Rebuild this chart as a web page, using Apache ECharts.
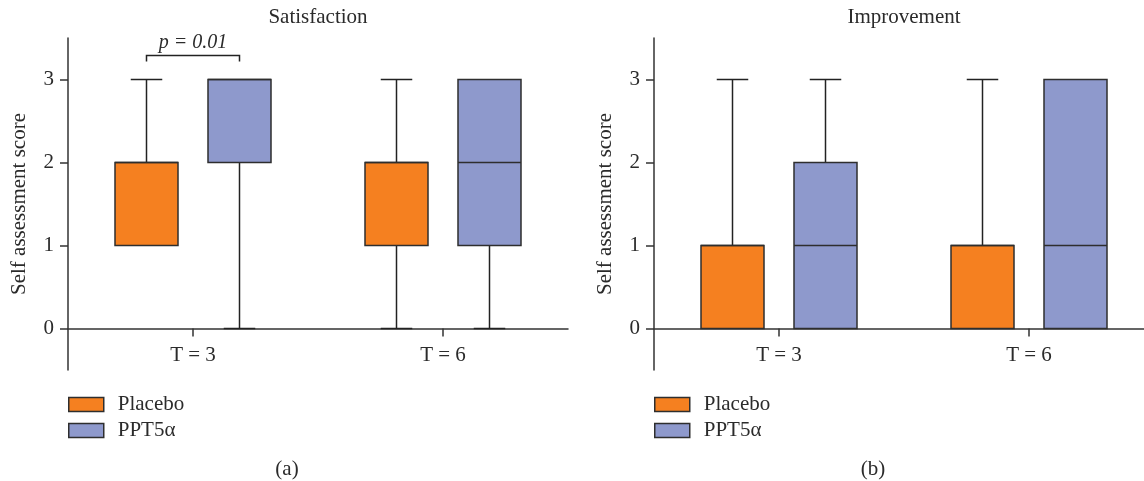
<!DOCTYPE html>
<html>
<head>
<meta charset="utf-8">
<script src="https://cdn.jsdelivr.net/npm/echarts@6/dist/echarts.min.js"></script>
<style>html,body{margin:0;padding:0;background:#fff;}#c{width:1144px;height:481px;}</style>
</head>
<body>
<div id="c"></div>
<script>
// ---- data ----
const categories = ['T = 3', 'T = 6'];
const seriesNames = ['Placebo', 'PPT5α'];
const panelTitles = ['Satisfaction', 'Improvement'];
const panelLabels = ['(a)', '(b)'];
const yAxisName = 'Self assessment score';
const yTicks = [0, 1, 2, 3];
// [min, Q1, median, Q3, max] per category
const satisfactionPlacebo = [[1, 1, 2, 2, 3], [0, 1, 2, 2, 3]];
const satisfactionPPT = [[0, 2, 3, 3, 3], [0, 1, 2, 3, 3]];
const improvementPlacebo = [[0, 0, 1, 1, 3], [0, 0, 1, 1, 3]];
const improvementPPT = [[0, 0, 1, 2, 3], [0, 0, 1, 3, 3]];
// significance bracket: category index, bracket value, label
const annotations = [{ panel: 0, category: 0, y: 3.29, label: 'p = 0.01' }];

const colors = ['#F58020', '#8E99CC'];
const edge = '#2e2e2e';
const textColor = '#2b2b2b';
const font = 'Liberation Serif';
const FS = 21;
const OFF = 0.186, BW = 0.252;
const offsets = [-OFF, OFF];
const Y_MIN = -0.5, Y_MAX = 3.5, GRID_H = 332;

function boxRender(si) {
  return function (params, api) {
    const cat = api.value(0);
    const band = api.size([1, 0])[0];
    const cx = api.coord([cat, 0])[0] + offsets[si] * band;
    const w = BW * band;
    const y = v => api.coord([cat, v])[1];
    const mn = api.value(1), q1 = api.value(2), md = api.value(3), q3 = api.value(4), mx = api.value(5);
    const ls = { stroke: '#222', lineWidth: 1.5 };
    const ch = [];
    if (mx > q3) {
      ch.push({ type: 'line', shape: { x1: cx, y1: y(q3), x2: cx, y2: y(mx) }, style: ls });
      ch.push({ type: 'line', shape: { x1: cx - w / 4, y1: y(mx), x2: cx + w / 4, y2: y(mx) }, style: ls });
    }
    if (q1 > mn) {
      ch.push({ type: 'line', shape: { x1: cx, y1: y(q1), x2: cx, y2: y(mn) }, style: ls });
      ch.push({ type: 'line', shape: { x1: cx - w / 4, y1: y(mn), x2: cx + w / 4, y2: y(mn) }, style: ls });
    }
    ch.push({ type: 'rect', shape: { x: cx - w / 2, y: y(q3), width: w, height: y(q1) - y(q3) },
      style: { fill: colors[si], stroke: edge, lineWidth: 1.5 } });
    ch.push({ type: 'line', shape: { x1: cx - w / 2, y1: y(md), x2: cx + w / 2, y2: y(md) }, style: { stroke: edge, lineWidth: 1.5 } });
    return { type: 'group', children: ch };
  };
}

function annRender(params, api) {
  const cat = api.value(0);
  const band = api.size([1, 0])[0];
  const c = api.coord([cat, api.value(1)]);
  const x1 = c[0] + offsets[0] * band, x2 = c[0] + offsets[1] * band;
  const yb = c[1], yt = c[1] + 6;
  const ls = { stroke: '#222', lineWidth: 1.5, fill: null };
  return { type: 'group', children: [
    { type: 'polyline', shape: { points: [[x1, yt], [x1, yb], [x2, yb], [x2, yt]] }, style: ls },
    { type: 'text', x: (x1 + x2) / 2, y: yb - 3, style: { text: annotations[params.dataIndex].label,
      font: 'italic 20px "' + font + '"', fill: textColor, textAlign: 'center', textVerticalAlign: 'bottom' } }
  ] };
}

const panelData = [[satisfactionPlacebo, satisfactionPPT], [improvementPlacebo, improvementPPT]];
const gridLefts = [68, 654];
// x axis sits at value 0: shift it up from the grid bottom
const xAxisOffset = -GRID_H * (0 - Y_MIN) / (Y_MAX - Y_MIN);

const option = {
  animation: false,
  backgroundColor: '#fff',
  textStyle: { fontFamily: font },
  title: [0, 1].map(p => ({ text: panelTitles[p], left: gridLefts[p] + 250, top: 7, textAlign: 'center', padding: 0,
      textStyle: { fontFamily: font, fontSize: FS, fontWeight: 'normal', color: textColor } }))
    .concat([0, 1].map(p => ({ text: panelLabels[p], left: gridLefts[p] + 219, top: 459, textAlign: 'center', padding: 0,
      textStyle: { fontFamily: font, fontSize: FS, fontWeight: 'normal', color: textColor } }))),
  legend: [0, 1].map(p => ({
    orient: 'vertical', left: gridLefts[p], top: 394, itemWidth: 35, itemHeight: 14, itemGap: 5, padding: 0,
    selectedMode: false,
    textStyle: { fontFamily: font, fontSize: FS, color: textColor, padding: [0, 0, 0, 9] },
    data: seriesNames.map((n, i) => ({ name: n, icon: 'rect', itemStyle: { color: colors[i], borderColor: edge, borderWidth: 1.5 } }))
  })),
  grid: [0, 1].map(p => ({ left: gridLefts[p], top: 38, width: 500, height: GRID_H, outerBoundsMode: 'none', containLabel: false })),
  xAxis: [0, 1].map(p => ({
    type: 'category', gridIndex: p, data: categories, position: 'bottom', offset: xAxisOffset,
    axisLine: { show: true, onZero: false, lineStyle: { color: '#333', width: 1.5 } },
    axisTick: { show: true, inside: false, alignWithLabel: true, length: 8, lineStyle: { color: '#333', width: 1.5 } },
    axisLabel: { fontFamily: font, fontSize: FS, color: textColor, margin: 16 },
    splitLine: { show: false }
  })),
  yAxis: [0, 1].map(p => ({
    type: 'value', gridIndex: p, min: Y_MIN, max: Y_MAX,
    name: yAxisName, nameLocation: 'middle', nameGap: 38,
    nameTextStyle: { fontFamily: font, fontSize: FS, color: textColor },
    axisLine: { show: true, lineStyle: { color: '#333', width: 1.5 } },
    axisTick: { show: true, length: 8, customValues: yTicks, lineStyle: { color: '#333', width: 1.5 } },
    axisLabel: { fontFamily: font, fontSize: FS, color: textColor, margin: 14, customValues: yTicks },
    splitLine: { show: false }
  })),
  series: []
};

[0, 1].forEach(p => {
  [0, 1].forEach(si => {
    option.series.push({
      type: 'custom', name: seriesNames[si], xAxisIndex: p, yAxisIndex: p,
      color: colors[si], itemStyle: { color: colors[si] },
      renderItem: boxRender(si),
      encode: { x: 0, y: [1, 2, 3, 4, 5] },
      data: panelData[p][si].map((v, ci) => [ci].concat(v))
    });
  });
});
option.series.push({
  type: 'custom', xAxisIndex: 0, yAxisIndex: 0, renderItem: annRender, silent: true,
  encode: { x: 0, y: 1 },
  data: annotations.filter(a => a.panel === 0).map(a => [a.category, a.y])
});

const chart = echarts.init(document.getElementById('c'));
chart.setOption(option);
</script>
</body>
</html>
